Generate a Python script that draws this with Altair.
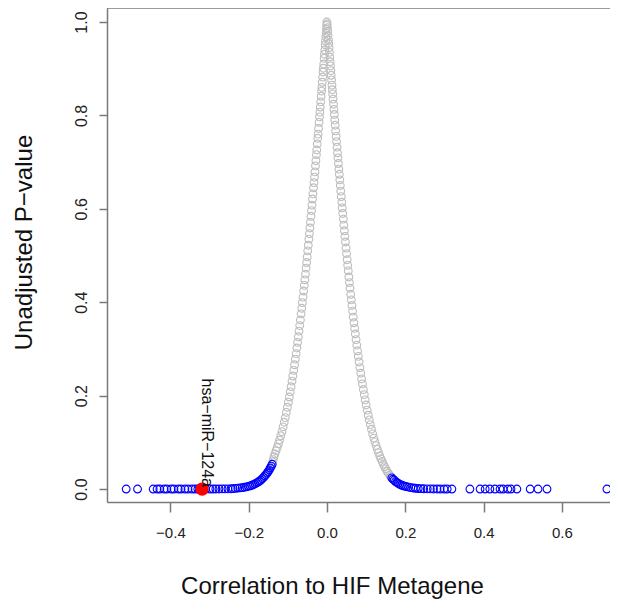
import altair as alt
import pandas as pd

# ---- data ----
# grey (non-significant) miRNAs, left branch of the peak
gray_left_r = [-0.0004, -0.0008, -0.0015, -0.0022, -0.0030, -0.0038, -0.0046, -0.0056, -0.0065, -0.0073,
               -0.0084, -0.0093, -0.0100, -0.0111, -0.0121, -0.0131, -0.0139, -0.0150, -0.0161, -0.0172,
               -0.0182, -0.0191, -0.0203, -0.0216, -0.0228, -0.0237, -0.0249, -0.0262, -0.0271, -0.0284,
               -0.0295, -0.0308, -0.0319, -0.0332, -0.0344, -0.0359, -0.0371, -0.0385, -0.0396, -0.0410,
               -0.0423, -0.0437, -0.0449, -0.0463, -0.0478, -0.0492, -0.0506, -0.0521, -0.0535, -0.0551,
               -0.0566, -0.0581, -0.0596, -0.0613, -0.0629, -0.0645, -0.0662, -0.0680, -0.0697, -0.0715,
               -0.0733, -0.0751, -0.0770, -0.0789, -0.0809, -0.0829, -0.0850, -0.0873, -0.0894, -0.0918,
               -0.0940, -0.0963, -0.0987, -0.1012, -0.1038, -0.1066, -0.1093, -0.1121, -0.1151, -0.1181,
               -0.1212, -0.1241, -0.1272, -0.1301, -0.1331, -0.1355, -0.1372, -0.1388]
gray_left_p = [1.000, 0.993, 0.985, 0.976, 0.968, 0.959, 0.951, 0.940, 0.931, 0.922,
               0.910, 0.901, 0.893, 0.882, 0.871, 0.860, 0.852, 0.841, 0.829, 0.818,
               0.807, 0.797, 0.785, 0.772, 0.760, 0.751, 0.739, 0.726, 0.716, 0.703,
               0.692, 0.679, 0.668, 0.656, 0.645, 0.632, 0.621, 0.608, 0.596, 0.584,
               0.571, 0.559, 0.547, 0.535, 0.522, 0.510, 0.497, 0.485, 0.473, 0.460,
               0.448, 0.436, 0.424, 0.411, 0.399, 0.387, 0.375, 0.362, 0.350, 0.338,
               0.326, 0.314, 0.302, 0.290, 0.278, 0.266, 0.254, 0.242, 0.231, 0.219,
               0.208, 0.197, 0.186, 0.175, 0.164, 0.153, 0.143, 0.133, 0.123, 0.114,
               0.105, 0.097, 0.089, 0.082, 0.075, 0.069, 0.063, 0.058]

# grey miRNAs, right branch of the peak
gray_right_r = [0.0004, 0.0011, 0.0019, 0.0027, 0.0036, 0.0043, 0.0052, 0.0061, 0.0070, 0.0080,
                0.0088, 0.0098, 0.0107, 0.0117, 0.0127, 0.0136, 0.0145, 0.0155, 0.0166, 0.0176,
                0.0187, 0.0198, 0.0209, 0.0221, 0.0233, 0.0244, 0.0256, 0.0268, 0.0279, 0.0291,
                0.0303, 0.0314, 0.0327, 0.0339, 0.0351, 0.0365, 0.0378, 0.0390, 0.0403, 0.0417,
                0.0430, 0.0444, 0.0457, 0.0471, 0.0485, 0.0499, 0.0514, 0.0528, 0.0543, 0.0558,
                0.0573, 0.0588, 0.0605, 0.0620, 0.0637, 0.0653, 0.0671, 0.0689, 0.0706, 0.0724,
                0.0742, 0.0761, 0.0780, 0.0799, 0.0819, 0.0840, 0.0862, 0.0884, 0.0906, 0.0929,
                0.0952, 0.0975, 0.0999, 0.1025, 0.1052, 0.1079, 0.1107, 0.1136, 0.1166, 0.1197,
                0.1226, 0.1256, 0.1287, 0.1317, 0.1347, 0.1377, 0.1409, 0.1440, 0.1471, 0.1502,
                0.1535, 0.1567, 0.1600, 0.1630]
gray_right_p = [0.996, 0.988, 0.980, 0.971, 0.962, 0.954, 0.945, 0.935, 0.925, 0.915,
                0.906, 0.896, 0.886, 0.876, 0.865, 0.855, 0.846, 0.835, 0.824, 0.813,
                0.802, 0.790, 0.779, 0.767, 0.755, 0.744, 0.732, 0.720, 0.709, 0.697,
                0.685, 0.674, 0.662, 0.650, 0.638, 0.626, 0.614, 0.602, 0.590, 0.578,
                0.565, 0.553, 0.541, 0.529, 0.516, 0.504, 0.491, 0.479, 0.467, 0.454,
                0.442, 0.430, 0.417, 0.405, 0.393, 0.381, 0.368, 0.356, 0.344, 0.332,
                0.320, 0.308, 0.296, 0.284, 0.272, 0.260, 0.248, 0.236, 0.225, 0.213,
                0.202, 0.191, 0.180, 0.169, 0.158, 0.148, 0.138, 0.128, 0.118, 0.109,
                0.101, 0.093, 0.085, 0.078, 0.071, 0.065, 0.059, 0.053, 0.048, 0.043,
                0.038, 0.034, 0.030, 0.027]

# blue (significant) miRNAs, negative correlation
blue_left_r = [-0.1400, -0.1425, -0.1450, -0.1475, -0.1505, -0.1530, -0.1560, -0.1590, -0.1620, -0.1655,
               -0.1690, -0.1725, -0.1760, -0.1800, -0.1840, -0.1880, -0.1920, -0.1965, -0.2010, -0.2060,
               -0.2110, -0.2165, -0.2220, -0.2280, -0.2340, -0.2400, -0.2450, -0.2530, -0.2610, -0.2680,
               -0.2760, -0.2840, -0.2910, -0.2990, -0.3100, -0.3300, -0.3370, -0.3450, -0.3550, -0.3630,
               -0.3730, -0.3800, -0.3910, -0.3980, -0.4090, -0.4160, -0.4270, -0.4340, -0.4440, -0.4840,
               -0.5130]
blue_left_p = [0.053, 0.049, 0.045, 0.041, 0.037, 0.034, 0.031, 0.028, 0.025, 0.022,
               0.019, 0.017, 0.015, 0.013, 0.011, 0.0095, 0.008, 0.0068, 0.0057, 0.0047,
               0.0038, 0.0030, 0.0024, 0.0018, 0.0013, 0.0009, 0.0006, 0.0004, 0.0003, 0.0002,
               0.0001, 0.0001, 0.0, 0.0, 0.0, 0.0, 0.0, 0.0, 0.0, 0.0,
               0.0, 0.0, 0.0, 0.0, 0.0, 0.0, 0.0, 0.0, 0.0, 0.0,
               0.0]

# blue (significant) miRNAs, positive correlation
blue_right_r = [0.1655, 0.1685, 0.1715, 0.1750, 0.1785, 0.1820, 0.1860, 0.1900, 0.1945, 0.1990,
                0.2035, 0.2085, 0.2140, 0.2200, 0.2260, 0.2330, 0.2400, 0.2470, 0.2560, 0.2640,
                0.2720, 0.2810, 0.2890, 0.2990, 0.3070, 0.3190, 0.365, 0.391, 0.404, 0.416,
                0.429, 0.442, 0.450, 0.462, 0.470, 0.485, 0.519, 0.539, 0.562, 0.715]
blue_right_p = [0.024, 0.021, 0.019, 0.016, 0.014, 0.012, 0.010, 0.0085, 0.007, 0.006,
                0.005, 0.004, 0.003, 0.0022, 0.0016, 0.0011, 0.0007, 0.0005, 0.0003, 0.0002,
                0.0001, 0.0001, 0.0, 0.0, 0.0, 0.0, 0.0, 0.0, 0.0, 0.0,
                0.0, 0.0, 0.0, 0.0, 0.0, 0.0, 0.0, 0.0, 0.0, 0.0]

# highlighted miRNA
hl_r = [-0.319]
hl_p = [0.0]
hl_label = ["hsa\u2212miR\u2212124a"]

x_ticks = [-0.4, -0.2, 0.0, 0.2, 0.4, 0.6]
y_ticks = [0.0, 0.2, 0.4, 0.6, 0.8, 1.0]
x_domain = [-0.562, 0.7229]
y_domain = [-0.0278, 1.030]

# ---- tables ----
gray_df = pd.DataFrame({"r": gray_left_r + gray_right_r, "p": gray_left_p + gray_right_p})
blue_df = pd.DataFrame({"r": blue_left_r + blue_right_r, "p": blue_left_p + blue_right_p})
hl_df = pd.DataFrame({"r": hl_r, "p": hl_p, "label": hl_label})

W, H = 503, 494
FONT = "Liberation Sans"
AXIS_GREY = "#7a7a7a"

xs = alt.Scale(domain=x_domain, nice=False, zero=False)
ys = alt.Scale(domain=y_domain, nice=False, zero=False)

x_axis = alt.Axis(values=x_ticks, format=".1f", grid=False,
                  title="Correlation to HIF Metagene",
                  tickSize=10, labelPadding=13, labelFontSize=15, labelFlush=False,
                  labelBaseline="top", labelColor="#222222",
                  titleFontSize=24, titleFontWeight="normal", titleColor="#111111",
                  titleX=225, titleY=91, titleAlign="center", titleBaseline="alphabetic")
y_axis = alt.Axis(values=y_ticks, format=".1f", grid=False,
                  title="Unadjusted P\u2212value",
                  tickSize=8, labelPadding=18, labelFontSize=16, labelFlush=False,
                  labelAngle=-90, labelAlign="center", labelBaseline="middle",
                  labelColor="#222222",
                  titleFontSize=24, titleFontWeight="normal", titleColor="#111111",
                  titleAngle=-90, titleX=-83, titleY=234, titleAlign="center",
                  titleBaseline="middle")

enc_x = alt.X("r:Q", scale=xs, axis=x_axis)
enc_y = alt.Y("p:Q", scale=ys, axis=y_axis)

gray = alt.Chart(gray_df).mark_point(
    shape="circle", filled=False, size=60, strokeWidth=1.1, color="#bebebe", opacity=1
).encode(x=enc_x, y=enc_y)

blue = alt.Chart(blue_df).mark_point(
    shape="circle", filled=False, size=60, strokeWidth=1.1, color="#0000ff", opacity=1
).encode(x=enc_x, y=enc_y)

red = alt.Chart(hl_df).mark_point(
    shape="circle", filled=True, size=175, color="#ff0000", opacity=1
).encode(x=enc_x, y=enc_y)

label = alt.Chart(hl_df).mark_text(
    angle=90, align="right", baseline="middle", dx=-2, dy=-5,
    fontSize=16, font=FONT, color="#111111"
).encode(x=enc_x, y=enc_y, text="label:N")

top_line = alt.Chart(pd.DataFrame({"a": [0]})).mark_rule(
    color=AXIS_GREY, strokeWidth=1.5
).encode(x=alt.value(0), x2=alt.value(W), y=alt.value(0))

chart = alt.layer(gray, blue, red, label, top_line).properties(
    width=W, height=H,
    autosize=alt.AutoSizeParams(type="none"),
    padding={"left": 99, "top": 0, "right": 0, "bottom": 98},
).configure_view(stroke=None).configure_axis(
    domainColor=AXIS_GREY, domainWidth=1.5, tickColor=AXIS_GREY, tickWidth=1.5,
    labelFont=FONT, titleFont=FONT
)

chart.save("out.html", embed_options={"renderer": "svg", "actions": False})
